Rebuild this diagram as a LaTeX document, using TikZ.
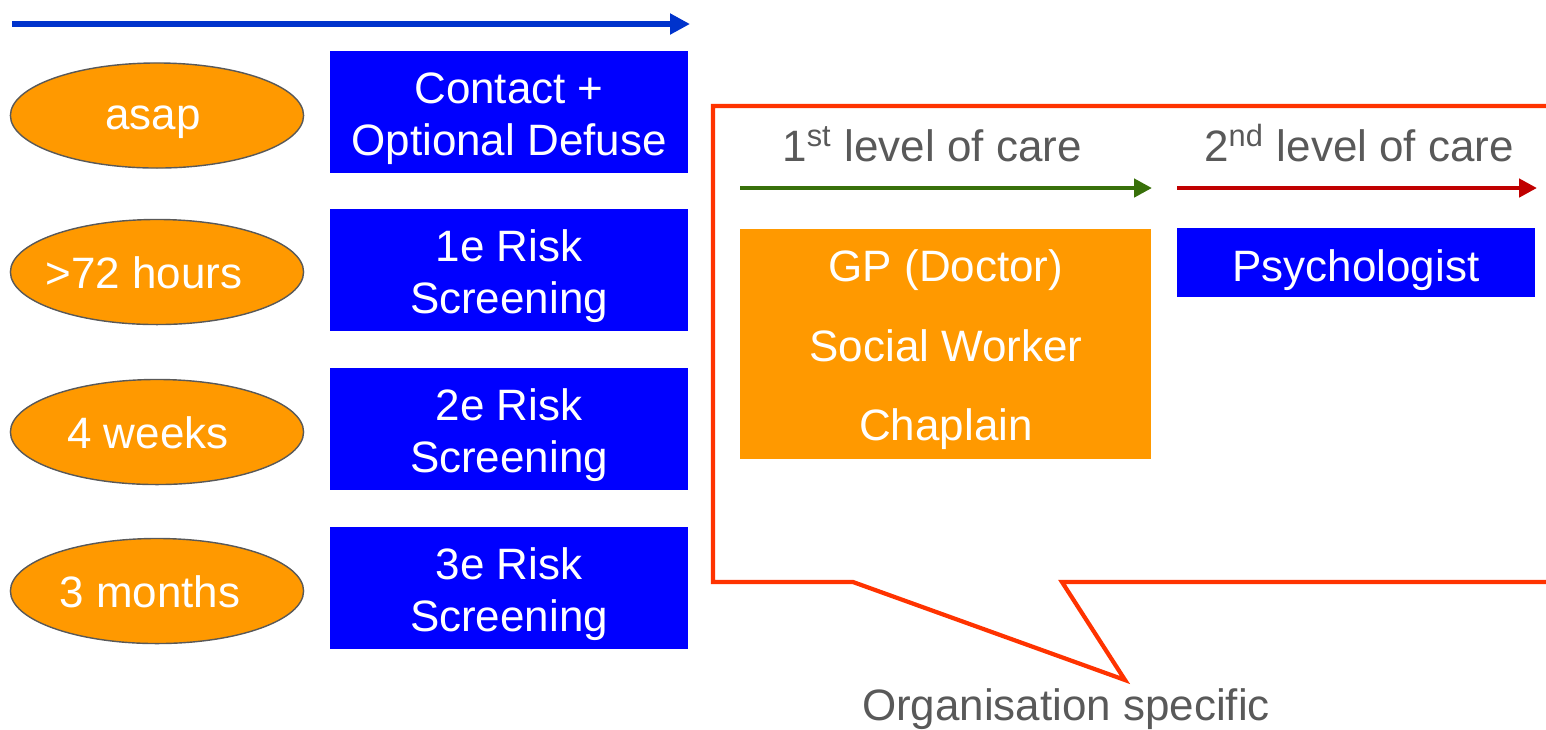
\documentclass[tikz,border=0pt]{standalone}
\usepackage{fontspec}
\setmainfont{Liberation Sans}
\usetikzlibrary{shapes.geometric,arrows.meta}
\definecolor{ora}{HTML}{FF9900}
\definecolor{bluebox}{HTML}{0000FF}
\definecolor{tline}{HTML}{0033CC}
\definecolor{gtxt}{HTML}{595959}
\definecolor{gline}{HTML}{38700A}
\definecolor{rline}{HTML}{C00000}
\definecolor{callout}{HTML}{FF3300}
\tikzset{
  x=0.01cm,y=-0.01cm,
  every node/.style={font=\fontsize{12.5}{14.8}\selectfont, inner sep=0pt},
  timeoval/.style={ellipse, fill=ora, draw=gtxt, line width=0.4pt, minimum width=2.93cm, minimum height=1.05cm},
  stagebox/.style={rectangle, fill=bluebox, minimum width=3.58cm, minimum height=1.22cm},
  captext/.style={text height=0.716em, text depth=0pt},
  wtext/.style={captext, text=white},
  wmulti/.style={text=white, align=center},
  levellabel/.style={captext, text=gtxt},
  tarrow/.style={line width=1.6pt, -{Triangle[length=0.2cm,width=0.2cm]}},
  larrow/.style={line width=1.4pt, -{Triangle[length=0.18cm,width=0.18cm]}}
}
\begin{document}
\begin{tikzpicture}
\useasboundingbox (0,0) rectangle (1546,729);
\clip (0,0) rectangle (1546,729);
% top timeline arrow
\coordinate (t0) at (12,24);
\coordinate (t1) at (690,24);
\draw[tarrow, draw=tline, fill=tline] (t0) -- (t1);
% time ovals
\node[timeoval] (o1) at (157,115.5) {};
\node[timeoval] (o2) at (157,272) {};
\node[timeoval] (o3) at (157,432) {};
\node[timeoval] (o4) at (157,591) {};
\node[wtext] (o1t) at (153,117) {asap};
\node[wtext] (o2t) at (144,275.5) {>72 hours};
\node[wtext] (o3t) at (148,435.5) {4 weeks};
\node[wtext] (o4t) at (150,594.5) {3 months};
% stage boxes
\node[stagebox] (b1) at (509,112) {};
\node[stagebox] (b2) at (509,270) {};
\node[stagebox] (b3) at (509,429) {};
\node[stagebox] (b4) at (509,588) {};
\node[wmulti] (b1t) at ([yshift=-0.065cm]b1.center) {Contact +\\Optional Defuse};
\node[wmulti] (b2t) at ([yshift=-0.065cm]b2.center) {1e Risk\\Screening};
\node[wmulti] (b3t) at ([yshift=-0.065cm]b3.center) {2e Risk\\Screening};
\node[wmulti] (b4t) at ([yshift=-0.065cm]b4.center) {3e Risk\\Screening};
% callout
\draw[callout, line width=1.2pt, line join=miter]
  (1600,106) -- (713,106) -- (713,582) -- (853,582) -- (1125,680) -- (1062,582) -- (1600,582);
\node[levellabel] (org) at (1066,708) {Organisation specific};
% levels of care
\node[levellabel] (l1) at (932,149) {1\textsuperscript{st} level of care};
\node[levellabel] (l2) at (1359,149) {2\textsuperscript{nd} level of care};
\coordinate (g0) at (740,188);
\coordinate (g1) at (1152,188);
\draw[larrow, draw=gline, fill=gline] (g0) -- (g1);
\coordinate (r0) at (1177,188);
\coordinate (r1) at (1537,188);
\draw[larrow, draw=rline, fill=rline] (r0) -- (r1);
% care boxes
\node[rectangle, fill=ora, minimum width=4.11cm, minimum height=2.30cm] (care1) at (945.5,344) {};
\node[wtext] (care1a) at (946,268.5) {GP (Doctor)};
\node[wtext] (care1b) at (946,348.5) {Social Worker};
\node[wtext] (care1c) at (946,427.5) {Chaplain};
\node[rectangle, fill=bluebox, minimum width=3.58cm, minimum height=0.69cm] (care2) at (1356,262.5) {};
\node[wtext] (care2t) at (1356,268.5) {Psychologist};
\end{tikzpicture}
\end{document}
